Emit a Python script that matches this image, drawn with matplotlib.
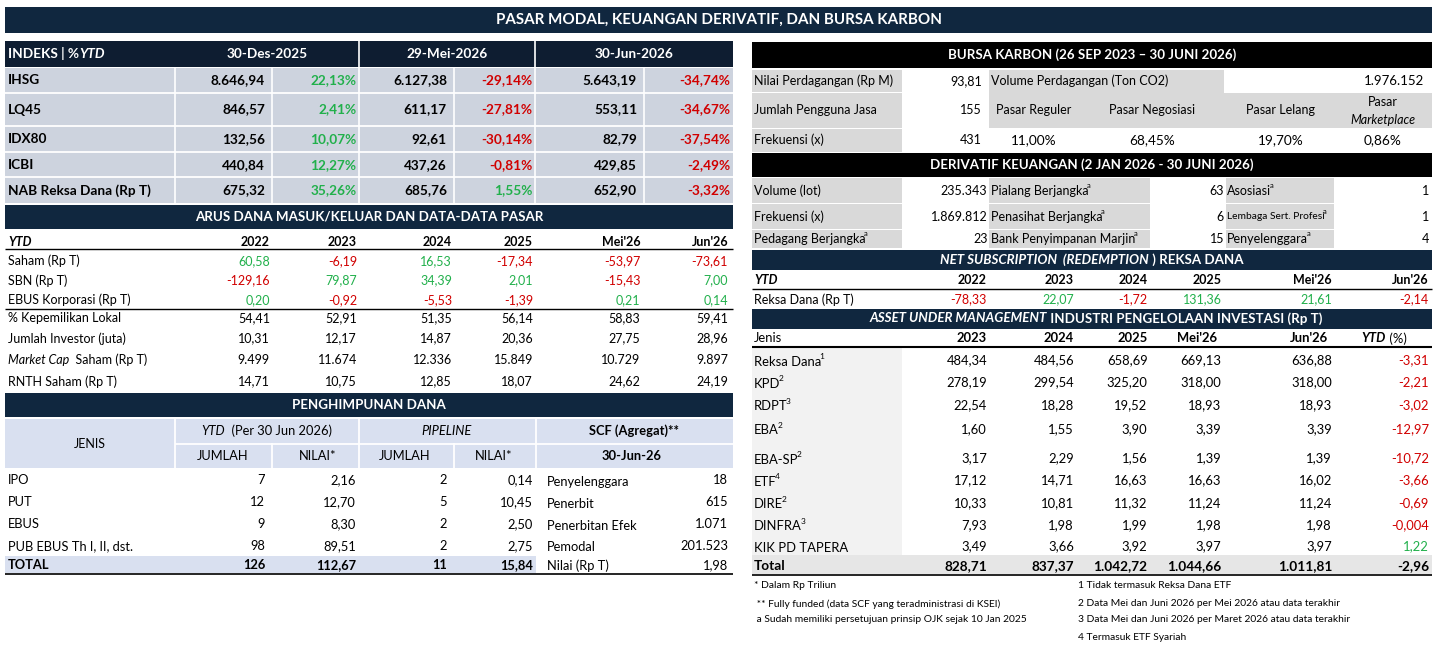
import matplotlib.pyplot as plt
from matplotlib.patches import Rectangle

plt.rcParams["font.family"] = ["Lato", "DejaVu Sans"]

# ---------------- data ----------------
title = "PASAR MODAL, KEUANGAN DERIVATIF, DAN BURSA KARBON"

# index table
idx_dates = ["30-Des-2025", "29-Mei-2026", "30-Jun-2026"]
idx_names = ["IHSG", "LQ45", "IDX80", "ICBI", "NAB Reksa Dana (Rp T)"]
idx_dec25 = [8646.94, 846.57, 132.56, 440.84, 675.32]
idx_dec25_pct = [22.13, 2.41, 10.07, 12.27, 35.26]
idx_mei26 = [6127.38, 611.17, 92.61, 437.26, 685.76]
idx_mei26_pct = [-29.14, -27.81, -30.14, -0.81, 1.55]
idx_jun26 = [5643.19, 553.11, 82.79, 429.85, 652.90]
idx_jun26_pct = [-34.74, -34.67, -37.54, -2.49, -3.32]

# arus dana
arus_cols = ["2022", "2023", "2024", "2025", "Mei'26", "Jun'26"]
flow_names = ["Saham (Rp T)", "SBN (Rp T)", "EBUS Korporasi (Rp T)"]
flow_saham = [60.58, -6.19, 16.53, -17.34, -53.97, -73.61]
flow_sbn = [-129.16, 79.87, 34.39, 2.01, -15.43, 7.00]
flow_ebus = [0.20, -0.92, -5.53, -1.39, 0.21, 0.14]
kepemilikan_lokal = [54.41, 52.91, 51.35, 56.14, 58.83, 59.41]
jumlah_investor = [10.31, 12.17, 14.87, 20.36, 27.75, 28.96]
market_cap = [9499, 11674, 12336, 15849, 10729, 9897]
rnth_saham = [14.71, 10.75, 12.85, 18.07, 24.62, 24.19]

# penghimpunan dana
ph_jenis = ["IPO", "PUT", "EBUS", "PUB EBUS Th I, II, dst."]
ph_ytd_jumlah = [7, 12, 9, 98]
ph_ytd_nilai = [2.16, 12.70, 8.30, 89.51]
ph_pipe_jumlah = [2, 5, 2, 2]
ph_pipe_nilai = [0.14, 10.45, 2.50, 2.75]
scf_labels = ["Penyelenggara", "Penerbit", "Penerbitan Efek", "Pemodal", "Nilai (Rp T)"]
scf_values = [18, 615, 1071, 201523, 1.98]
scf_decimals = [0, 0, 0, 0, 2]

# bursa karbon
bk_nilai = 93.81
bk_volume = 1976152
bk_pengguna = 155
bk_frekuensi = 431
bk_pasar = ["Pasar Reguler", "Pasar Negosiasi", "Pasar Lelang"]
bk_share = [11.00, 68.45, 19.70, 0.86]

# derivatif keuangan
der_labels1 = ["Volume (lot)", "Frekuensi (x)", "Pedagang Berjangka"]
der_vals1 = [235343, 1869812, 23]
der_sup1 = [False, False, True]
der_labels2 = ["Pialang Berjangka", "Penasihat Berjangka", "Bank Penyimpanan Marjin"]
der_vals2 = [63, 6, 15]
der_labels3 = ["Asosiasi", "Lembaga Sert. Profesi", "Penyelenggara"]
der_vals3 = [1, 1, 4]

# net subscription reksa dana
ns_cols = ["2022", "2023", "2024", "2025", "Mei'26", "Jun'26"]
ns_values = [-78.33, 22.07, -1.72, 131.36, 21.61, -2.14]

# AUM
aum_cols = ["2023", "2024", "2025", "Mei'26", "Jun'26"]
aum_jenis = ["Reksa Dana", "KPD", "RDPT", "EBA", "EBA-SP", "ETF", "DIRE", "DINFRA", "KIK PD TAPERA"]
aum_sup = ["1", "2", "3", "2", "2", "4", "2", "3", ""]
aum_2023 = [484.34, 278.19, 22.54, 1.60, 3.17, 17.12, 10.33, 7.93, 3.49]
aum_2024 = [484.56, 299.54, 18.28, 1.55, 2.29, 14.71, 10.81, 1.98, 3.66]
aum_2025 = [658.69, 325.20, 19.52, 3.90, 1.56, 16.63, 11.32, 1.99, 3.92]
aum_mei26 = [669.13, 318.00, 18.93, 3.39, 1.39, 16.63, 11.24, 1.98, 3.97]
aum_jun26 = [636.88, 318.00, 18.93, 3.39, 1.39, 16.02, 11.24, 1.98, 3.97]
aum_ytd = [-3.31, -2.21, -3.02, -12.97, -10.72, -3.66, -0.69, -0.004, 1.22]
aum_total = [828.71, 837.37, 1042.72, 1044.66, 1011.81]
aum_total_ytd = -2.96

notes_left = ["* Dalam Rp Triliun",
              " ** Fully funded (data SCF yang teradministrasi di KSEI)",
              " a Sudah memiliki persetujuan prinsip OJK sejak 10 Jan 2025"]
notes_right = ["1 Tidak termasuk Reksa Dana ETF",
               "2 Data Mei dan Juni 2026 per Mei 2026 atau data terakhir",
               "3 Data Mei dan Juni 2026 per Maret 2026 atau data terakhir",
               "4 Termasuk ETF Syariah"]

# ---------------- style ----------------
NAVY = "#10273f"
NAVY_IDX = "#0e1d31"
IDX_BG = "#cdd3de"
PH_BG = "#d9e0f0"
GRAY = "#d9d9d9"
LIGHT = "#f2f2f2"
TOTAL_BG = "#e6e6e6"
GREEN = "#21b04b"
RED = "#d10000"
FS = 9
FS_HEAD = 9.6
FS_IDX = 9.8
FS_NOTE = 7.4

fig = plt.figure(figsize=(14.37, 6.5), dpi=100)
ax = fig.add_axes([0, 0, 1, 1])
ax.set_xlim(0, 1437)
ax.set_ylim(650, 0)
ax.axis("off")
renderer = fig.canvas.get_renderer()


def idn(v, dec=2):
    s = f"{v:,.{dec}f}"
    return s.replace(",", "X").replace(".", ",").replace("X", ".")


def sign_color(v):
    return GREEN if v > 0 else RED


def box(x0, y0, x1, y1, color):
    ax.add_patch(Rectangle((x0, y0), x1 - x0, y1 - y0, facecolor=color,
                           edgecolor="none", linewidth=0))


def hline(y, x0, x1, color="black", lw=0.8):
    ax.plot([x0, x1], [y, y], color=color, lw=lw, solid_capstyle="butt")


def vline(x, y0, y1, color="white", lw=1.0):
    ax.plot([x, x], [y0, y1], color=color, lw=lw, solid_capstyle="butt")


def txt(x, y, s, ha="left", size=FS, **kw):
    return ax.text(x, y, s, ha=ha, va="center", fontsize=size, **kw)


def rich(x, y, parts, ha="left", size=FS, color="black"):
    objs = [ax.text(0, y, s, ha="left", va="center", fontsize=size,
                    color=color, **style) for s, style in parts]
    widths = [t.get_window_extent(renderer=renderer).width for t in objs]
    total = sum(widths)
    start = x - total / 2 if ha == "center" else (x - total if ha == "right" else x)
    for t, w in zip(objs, widths):
        t.set_x(start)
        start += w
    return start


def sup_after(t, s, size=5.5):
    w = t.get_window_extent(renderer=renderer).width
    x, y = t.get_position()
    ax.text(x + w - 1.5, y - 5, s, ha="left", va="center", fontsize=size)


B = {"fontweight": "bold"}
BI = {"fontweight": "bold", "fontstyle": "italic"}
I = {"fontstyle": "italic"}
N = {}

# ---------------- title ----------------
box(5, 7, 1432, 32.5, NAVY)
txt(719, 20, title, ha="center", size=10.9, color="white", fontweight="bold")

# ---------------- index table ----------------
box(5, 41, 733, 67, NAVY_IDX)
rich(8, 54, [("INDEKS | %", B), ("YTD", BI)], color="white", size=FS_IDX)
date_centers = [267, 447, 634]
for xc, d in zip(date_centers, idx_dates):
    txt(xc, 54, d, ha="center", size=FS_IDX, color="white", fontweight="bold")
for x in [359, 535]:
    vline(x, 41, 67, lw=1.2)

row_edges = [67.8, 92.7, 126.3, 152.2, 177.3, 203.5]
box(5, row_edges[0], 733, row_edges[-1], IDX_BG)
for y in row_edges[1:-1]:
    hline(y, 5, 733, color="white", lw=1.3)
for x in [175, 272, 359, 454, 535, 644]:
    vline(x, row_edges[0], row_edges[-1], lw=1.2)

val_cols = [(idx_dec25, idx_dec25_pct, 272, 359),
            (idx_mei26, idx_mei26_pct, 454, 535),
            (idx_jun26, idx_jun26_pct, 644, 733)]
for i, name in enumerate(idx_names):
    yc = (row_edges[i] + row_edges[i + 1]) / 2
    txt(8, yc, name, size=FS_IDX, fontweight="bold")
    for vals, pcts, xv, xp in val_cols:
        txt(xv - 7, yc, idn(vals[i]), ha="right", size=FS_IDX, fontweight="bold")
        txt(xp - 2.5, yc, idn(pcts[i]) + "%", ha="right", size=FS_IDX,
            fontweight="bold", color=sign_color(pcts[i]))

# ---------------- arus dana ----------------
box(5, 205, 733, 228.5, NAVY)
txt(369, 216.8, "ARUS DANA MASUK/KELUAR DAN DATA-DATA PASAR", ha="center",
    size=FS_HEAD, color="white", fontweight="bold")
arus_x = [270, 357, 452, 533, 640.5, 728]
txt(8, 241.5, "YTD", fontweight="bold", fontstyle="italic")
for x, c in zip(arus_x, arus_cols):
    txt(x, 241.5, c, ha="right", fontweight="bold")
hline(249, 5, 733, lw=1.0)

flow_rows = [flow_saham, flow_sbn, flow_ebus]
for y, name, vals in zip([261, 280.5, 300], flow_names, flow_rows):
    txt(8, y, name)
    for x, v in zip(arus_x, vals):
        txt(x, y, idn(v), ha="right", color=sign_color(v))
hline(308.5, 5, 733, lw=1.0)

mkt_y = [318.5, 338.5, 360, 381.5]
txt(8, mkt_y[0], "% Kepemilikan Lokal")
txt(8, mkt_y[1], "Jumlah Investor (juta)")
rich(8, mkt_y[2], [("Market Cap", I), ("  Saham (Rp T)", N)])
txt(8, mkt_y[3], "RNTH Saham (Rp T)")
for y, vals, dec in zip(mkt_y, [kepemilikan_lokal, jumlah_investor, market_cap, rnth_saham],
                        [2, 2, 0, 2]):
    for x, v in zip(arus_x, vals):
        txt(x, y, idn(v, dec), ha="right")

# ---------------- penghimpunan dana ----------------
box(5, 393, 733, 417.3, NAVY)
txt(369, 405.2, "PENGHIMPUNAN DANA", ha="center", size=FS_HEAD, color="white",
    fontweight="bold")
box(5, 419, 733, 468, PH_BG)
for x in [175, 359, 536]:
    vline(x, 419, 468, lw=1.3)
for x in [272, 454]:
    vline(x, 443, 468, lw=1.3)
hline(443.5, 175, 733, color="white", lw=1.3)
txt(90, 444, "JENIS", ha="center")
rich(267, 431, [("YTD", I), ("  (Per 30 Jun 2026)", N)], ha="center", size=9.3)
txt(447, 431, "PIPELINE", ha="center", size=9.3, fontstyle="italic")
txt(634, 431, "SCF (Agregat)**", ha="center", size=9.3, fontweight="bold")
for xc, s in zip([223, 318, 405, 494], ["JUMLAH", "NILAI*", "JUMLAH", "NILAI*"]):
    txt(xc, 456, s, ha="center", size=9.3)
txt(632, 456, "30-Jun-26", ha="center", size=9.3, fontweight="bold")

ph_y = [480.5, 502.5, 524.5, 546]
for i, name in enumerate(ph_jenis):
    y = ph_y[i]
    txt(8, y, name, size=9.3)
    txt(265, y, str(ph_ytd_jumlah[i]), ha="right", size=9.3)
    txt(356, y, idn(ph_ytd_nilai[i]), ha="right", size=9.3)
    txt(447, y, str(ph_pipe_jumlah[i]), ha="right", size=9.3)
    txt(533, y, idn(ph_pipe_nilai[i]), ha="right", size=9.3)
box(5, 556, 536, 573.3, PH_BG)
y_tot = 565
txt(8, y_tot, "TOTAL", size=9.3, fontweight="bold")
txt(265, y_tot, str(sum(ph_ytd_jumlah)), ha="right", size=9.3, fontweight="bold")
txt(356, y_tot, idn(sum(ph_ytd_nilai)), ha="right", size=9.3, fontweight="bold")
txt(447, y_tot, str(sum(ph_pipe_jumlah)), ha="right", size=9.3, fontweight="bold")
txt(533, y_tot, idn(sum(ph_pipe_nilai)), ha="right", size=9.3, fontweight="bold")
hline(574.3, 5, 733, lw=1.2)
for y, lab, v, d in zip(ph_y + [y_tot], scf_labels, scf_values, scf_decimals):
    txt(547, y + 1, lab, size=9.3)
    txt(728, y, idn(v, d), ha="right", size=9.3)

# ---------------- bursa karbon ----------------
box(752, 41.7, 1432, 68.3, "black")
txt(1092, 55, "BURSA KARBON (26 SEP 2023 \u2013 30 JUNI 2026)", ha="center",
    size=FS_HEAD, color="white", fontweight="bold")
box(752, 69.5, 902, 92, GRAY)
box(752, 93, 902, 127.5, GRAY)
box(752, 128.5, 902, 152, GRAY)
box(989, 69.5, 1224, 93, GRAY)
box(989, 93, 1432, 127.5, GRAY)
txt(754, 80.8, "Nilai Perdagangan (Rp M)")
txt(982, 80.8, idn(bk_nilai), ha="right")
txt(991, 80.8, "Volume Perdagangan (Ton CO2)")
txt(1424, 80.8, idn(bk_volume, 0), ha="right", size=9.5)
txt(754, 110, "Jumlah Pengguna Jasa")
txt(982, 110, str(bk_pengguna), ha="right")
txt(754, 140, "Frekuensi (x)")
txt(982, 140, str(bk_frekuensi), ha="right")
pasar_x = [1034, 1152, 1281, 1383]
for xc, lab in zip(pasar_x, bk_pasar):
    txt(xc, 110, lab, ha="center")
txt(pasar_x[3], 101.5, "Pasar", ha="center")
txt(pasar_x[3], 119.5, "Marketplace", ha="center", fontstyle="italic")
for xc, v in zip(pasar_x, bk_share):
    txt(xc, 140, idn(v) + "%", ha="center", size=9.8)

# ---------------- derivatif ----------------
box(752, 153, 1432, 177, "black")
txt(1092, 165, "DERIVATIF KEUANGAN (2 JAN 2026 - 30 JUNI 2026)", ha="center",
    size=FS_HEAD, color="white", fontweight="bold")
der_edges = [178, 204, 229.5, 248.5]
der_y = [191, 216.7, 239]
for i in range(3):
    for x0, x1 in [(752, 902), (989, 1150), (1226, 1334)]:
        box(x0, der_edges[i], x1, der_edges[i + 1] - 1, GRAY)
    t = txt(754, der_y[i], der_labels1[i])
    if der_sup1[i]:
        sup_after(t, "a")
    txt(987.5, der_y[i], idn(der_vals1[i], 0), ha="right")
    t = txt(991, der_y[i], der_labels2[i])
    sup_after(t, "a")
    txt(1224, der_y[i], str(der_vals2[i]), ha="right")
    t = txt(1227, der_y[i], der_labels3[i], size=7.4 if i == 1 else FS)
    sup_after(t, "a")
    txt(1429, der_y[i], str(der_vals3[i]), ha="right")

# ---------------- net subscription ----------------
box(752, 250, 1432, 270, NAVY)
rich(1092, 260, [("NET SUBSCRIPTION  (REDEMPTION", BI), (" ) REKSA DANA", B)],
     ha="center", size=FS_HEAD, color="white")
ns_x = [987, 1074, 1147.5, 1221.5, 1332, 1429]
txt(754, 279.5, "YTD", fontweight="bold", fontstyle="italic")
for x, c in zip(ns_x, ns_cols):
    txt(x, 279.5, c, ha="right", fontweight="bold")
hline(288.5, 752, 1432, lw=1.0)
txt(754, 299.5, "Reksa Dana (Rp T)")
for x, v in zip(ns_x, ns_values):
    txt(x, 299.5, idn(v), ha="right", color=sign_color(v))

# ---------------- AUM ----------------
box(752, 308.5, 1432, 328.5, NAVY)
rich(1096, 318.5, [("ASSET UNDER MANAGEMENT", BI),
                   (" INDUSTRI PENGELOLAAN INVESTASI (Rp T)", B)],
     ha="center", size=FS_HEAD, color="white")
aum_head_x = [987, 1074, 1147.5, 1217, 1327.5]
txt(754, 338.5, "Jenis", size=9.4)
for x, c in zip(aum_head_x, aum_cols):
    txt(x, 338.5, c, ha="right", size=9.4, fontweight="bold")
rich(1384, 338.5, [("YTD", BI), (" (%)", N)], ha="center", size=9.4)
hline(347, 752, 1432, lw=1.5)

box(752, 348, 902, 555, LIGHT)
aum_x = [987, 1074, 1147.5, 1221.5, 1332, 1429]
aum_y = [360, 382, 405, 429, 458.3, 480, 502.7, 525, 546]
aum_series = [aum_2023, aum_2024, aum_2025, aum_mei26, aum_jun26]
for i, name in enumerate(aum_jenis):
    y = aum_y[i]
    t = txt(754, y + 1.5, name, size=9.4)
    if aum_sup[i]:
        sup_after(t, aum_sup[i], size=6)
    for x, series in zip(aum_x, aum_series):
        txt(x, y, idn(series[i]), ha="right", size=9.4)
    v = aum_ytd[i]
    txt(aum_x[5], y, idn(v, 3 if abs(v) < 0.01 else 2), ha="right", size=9.4,
        color=sign_color(v))

box(752, 555, 1432, 573.5, TOTAL_BG)
txt(754, 566, "Total", fontweight="bold", size=9.8)
for x, v in zip(aum_x, aum_total):
    txt(x, 566, idn(v), ha="right", fontweight="bold", size=9.8)
txt(aum_x[5], 566, idn(aum_total_ytd), ha="right", fontweight="bold", size=9.8)
hline(574.5, 752, 1432, lw=1.2)

# ---------------- footnotes ----------------
for y, s in zip([585, 604, 620], notes_left):
    txt(754.5, y, s, size=FS_NOTE)
for y, s in zip([585, 604, 620, 637], notes_right):
    txt(1078, y, s, size=FS_NOTE)

fig.savefig("out.png", dpi=100)
